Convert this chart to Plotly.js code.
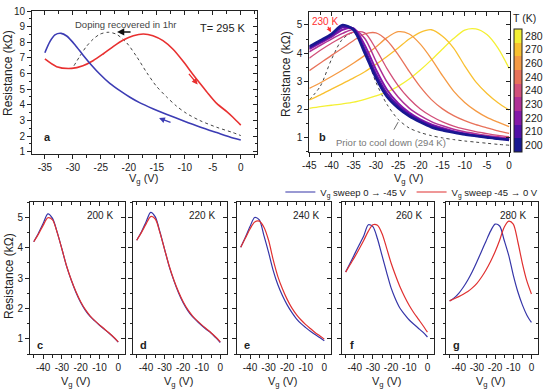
<!DOCTYPE html>
<html>
<head>
<meta charset="utf-8">
<script src="https://cdn.plot.ly/plotly-3.0.1.min.js"></script>
<style>
  html, body { margin: 0; padding: 0; background: #fff; }
  #chart { width: 545px; height: 390px; }
</style>
</head>
<body>
<div id="chart"></div>
<script>
// ---- Panel a: sweeps at 295 K (resistance in kOhm vs gate voltage in V) ----
const aBlueV = [-35.0, -34.1, -33.2, -32.1, -31.1, -29.6, -28.2, -26.7, -25.2, -23.4, -21.6, -19.8, -18.0, -15.7, -13.3, -10.3, -7.3, -4.3, -1.4, 0];
const aBlueR = [7.33, 8.04, 8.47, 8.57, 8.40, 7.83, 7.19, 6.55, 5.97, 5.37, 4.90, 4.48, 4.12, 3.75, 3.40, 2.98, 2.58, 2.22, 1.88, 1.75];
const aRedV = [-35.0, -32.9, -30.2, -28.2, -26.4, -24.6, -22.8, -21.0, -19.2, -17.4, -15.7, -13.9, -12.1, -10.3, -8.5, -7.3, -6.1, -4.3, -2.5, -1.4, 0];
const aRedR = [6.93, 6.44, 6.33, 6.50, 6.82, 7.25, 7.72, 8.14, 8.42, 8.53, 8.42, 8.10, 7.55, 6.78, 5.92, 5.37, 4.84, 4.09, 3.56, 3.20, 2.70];
const aGreyV = [-29.8, -28.8, -27.6, -26.4, -25.2, -23.7, -22.2, -20.4, -18.6, -16.8, -15.1, -13.3, -11.5, -9.7, -7.3, -4.3, -1.4, 0];
const aGreyR = [6.50, 7.08, 7.72, 8.19, 8.51, 8.64, 8.51, 7.97, 7.08, 6.06, 5.20, 4.52, 3.92, 3.45, 2.99, 2.56, 2.22, 2.03];

// ---- Shared gate-voltage grid for panels b–g ----
const vGrid = [-45, -42.5, -40, -37.5, -35, -32.5, -30, -27.5, -25, -22.5, -20, -17.5, -15, -12.5, -10, -7.5, -5, -2.5, 0];

// ---- Panel b: one curve per temperature ----
const tempLabels = ['200', '210', '220', '230', '240', '240', '260', '270', '280'];
const tempColors = ['#181890', '#5010a6', '#8418a8', '#b03096', '#d2507a', '#e8725a', '#f59a44', '#f9c030', '#f4f034'];
const b200 = [4.23, 4.45, 4.68, 5.00, 4.82, 4.00, 3.12, 2.45, 2.05, 1.76, 1.55, 1.37, 1.26, 1.18, 1.11, 1.06, 1.01, 0.96, 0.92];
const b210 = [4.19, 4.40, 4.63, 4.92, 4.86, 4.12, 3.25, 2.56, 2.13, 1.82, 1.60, 1.42, 1.30, 1.20, 1.13, 1.07, 1.02, 0.97, 0.93];
const b220 = [4.14, 4.36, 4.58, 4.83, 4.88, 4.28, 3.42, 2.70, 2.22, 1.89, 1.65, 1.47, 1.34, 1.23, 1.15, 1.08, 1.03, 0.98, 0.94];
const b230 = [4.05, 4.28, 4.50, 4.70, 4.84, 4.52, 3.72, 2.98, 2.44, 2.05, 1.78, 1.57, 1.42, 1.30, 1.21, 1.14, 1.08, 1.03, 0.98];
const b240a = [3.82, 4.10, 4.35, 4.58, 4.75, 4.72, 4.15, 3.45, 2.85, 2.38, 2.02, 1.76, 1.56, 1.41, 1.30, 1.21, 1.14, 1.08, 1.03];
const b240b = [3.38, 3.65, 3.92, 4.18, 4.45, 4.68, 4.72, 4.45, 3.95, 3.35, 2.80, 2.35, 2.02, 1.78, 1.60, 1.46, 1.35, 1.24, 1.15];
const b260 = [2.75, 2.95, 3.17, 3.40, 3.65, 3.92, 4.22, 4.55, 4.76, 4.68, 4.32, 3.80, 3.20, 2.65, 2.25, 1.95, 1.72, 1.55, 1.39];
const b270 = [2.34, 2.52, 2.72, 2.92, 3.12, 3.34, 3.60, 3.88, 4.18, 4.50, 4.74, 4.83, 4.60, 4.18, 3.55, 2.98, 2.57, 2.24, 1.98];
const b280 = [2.04, 2.10, 2.15, 2.20, 2.26, 2.36, 2.48, 2.62, 2.82, 3.08, 3.40, 3.76, 4.15, 4.52, 4.82, 4.86, 4.66, 4.18, 3.46];
const bPrior = [2.34, 2.83, 3.78, 4.50, 4.72, 4.05, 2.97, 2.18, 1.65, 1.34, 1.18, 1.07, 0.99, 0.93, 0.88, 0.84, 0.80, 0.76, 0.73];
const bCurves = [b200, b210, b220, b230, b240a, b240b, b260, b270, b280];
const bWidths = [2.6, 2.3, 2.0, 1.5, 1.3, 1.3, 1.3, 1.3, 1.3];

// ---- Panels c–g: forward (0 -> -45 V) and backward (-45 -> 0 V) sweeps ----
const sweepTemps = ['200 K', '220 K', '240 K', '260 K', '280 K'];
const sweepLetters = ['c', 'd', 'e', 'f', 'g'];
const fwd200 = [4.20, 4.48, 4.80, 5.12, 4.97, 4.51, 3.96, 3.39, 2.93, 2.53, 2.20, 1.94, 1.74, 1.59, 1.45, 1.32, 1.19, 1.05, 0.89];
const bwd200 = [4.20, 4.45, 4.74, 4.99, 4.92, 4.50, 3.96, 3.40, 2.94, 2.55, 2.22, 1.96, 1.76, 1.60, 1.46, 1.33, 1.20, 1.06, 0.90];
const fwd220 = [4.25, 4.52, 4.85, 5.17, 5.02, 4.52, 3.95, 3.38, 2.92, 2.52, 2.19, 1.93, 1.73, 1.58, 1.44, 1.31, 1.19, 1.04, 0.88];
const bwd220 = [4.25, 4.50, 4.78, 5.03, 4.95, 4.50, 3.95, 3.40, 2.94, 2.55, 2.22, 1.96, 1.76, 1.60, 1.46, 1.33, 1.20, 1.06, 0.90];
const fwd240 = [4.02, 4.35, 4.70, 5.00, 4.92, 4.40, 3.85, 3.25, 2.78, 2.42, 2.12, 1.87, 1.66, 1.50, 1.37, 1.25, 1.14, 1.04, 0.94];
const bwd240 = [4.02, 4.32, 4.62, 4.85, 4.88, 4.68, 4.25, 3.60, 3.05, 2.64, 2.30, 2.02, 1.80, 1.62, 1.47, 1.34, 1.21, 1.10, 0.99];
const fwd260 = [3.20, 3.50, 3.80, 4.10, 4.40, 4.76, 4.70, 4.30, 3.75, 3.20, 2.68, 2.30, 2.00, 1.80, 1.62, 1.48, 1.35, 1.22, 1.06];
const bwd260 = [3.20, 3.45, 3.70, 3.97, 4.25, 4.55, 4.76, 4.74, 4.47, 4.00, 3.50, 3.08, 2.70, 2.38, 2.10, 1.86, 1.65, 1.44, 1.22];
const fwd280 = [2.25, 2.35, 2.50, 2.70, 2.94, 3.22, 3.54, 3.88, 4.22, 4.55, 4.78, 4.72, 4.25, 3.75, 3.10, 2.55, 2.12, 1.78, 1.54];
const bwd280 = [2.25, 2.32, 2.39, 2.47, 2.56, 2.68, 2.83, 3.03, 3.27, 3.55, 3.87, 4.25, 4.68, 4.88, 4.78, 4.20, 3.49, 2.90, 2.48];
const fwdSweeps = [fwd200, fwd220, fwd240, fwd260, fwd280];
const bwdSweeps = [bwd200, bwd220, bwd240, bwd260, bwd280];

// ---- Tick values (labels are printed with a plain hyphen) ----
const ticksXa = [-35, -30, -25, -20, -15, -10, -5, 0];
const ticksXb = [-45, -40, -35, -30, -25, -20, -15, -10, -5, 0];
const ticksXs = [-40, -30, -20, -10, 0];
const ticksYa = [1, 2, 3, 4, 5, 6, 7, 8, 9, 10];
const ticksYb = [1, 2, 3, 4, 5];

const FONT = 'Liberation Sans, Arial, Helvetica, sans-serif';
const INK = '#222';
const W = 545, H = 390;
const px = v => v / W;
const py = v => 1 - v / H;

// plot-area boxes in pixels: [left, right, top, bottom]
const boxA = [32, 257, 11, 154];
const boxB = [309.3, 510, 12.3, 151.7];
const bottomBoxes = [[30, 125], [133, 227], [237, 331], [342, 434], [446, 538]];
const bottomTop = 202.3, bottomBottom = 354;

function mainAxis(domain, range, tickvals, minorDtick, labels, anchor) {
  return {
    domain, range, anchor,
    tickmode: 'array', tickvals, ticktext: tickvals.map(String),
    ticks: 'outside', ticklen: 4, tickwidth: 1, tickcolor: INK,
    minor: { tickmode: 'linear', tick0: 0, dtick: minorDtick, ticks: 'outside', ticklen: 2.5, tickwidth: 1, tickcolor: INK },
    showline: true, linecolor: INK, linewidth: 1, mirror: true,
    showgrid: false, zeroline: false, showticklabels: labels,
    tickfont: { family: FONT, size: 10, color: INK }, fixedrange: true
  };
}
function mirrorAxis(range, tickvals, minorDtick, overlaying, side, anchor) {
  return {
    range, overlaying, side, anchor,
    tickmode: 'array', tickvals,
    ticks: 'inside', ticklen: 4, tickwidth: 1, tickcolor: INK,
    minor: { tickmode: 'linear', tick0: 0, dtick: minorDtick, ticks: 'inside', ticklen: 2.5, tickwidth: 1, tickcolor: INK },
    showline: false, showgrid: false, zeroline: false, showticklabels: false, fixedrange: true
  };
}

const layout = {
  width: W, height: H,
  margin: { l: 0, r: 0, t: 0, b: 0 },
  paper_bgcolor: '#fff', plot_bgcolor: '#fff',
  font: { family: FONT, size: 10, color: INK },
  showlegend: true,
  legend: {
    orientation: 'h', x: 0.997, xanchor: 'right', y: py(192), yanchor: 'middle',
    font: { family: FONT, size: 9.5, color: INK }, bgcolor: 'rgba(0,0,0,0)',
    itemwidth: 30, traceorder: 'normal'
  },
  annotations: [],
  hovermode: false
};

const traces = [];
const rangeA = { x: [-37.3, 2.9], y: [0.85, 10] };
const rangeB = { x: [-45, 0.2], y: [0.5, 5.45] };
const rangeS = { x: [-47, 3.6], y: [0.5, 5.5] };

// panel a axes
layout.xaxis = mainAxis([px(boxA[0]), px(boxA[1])], rangeA.x, ticksXa, 2.5, true, 'y');
layout.yaxis = mainAxis([py(boxA[3]), py(boxA[2])], rangeA.y, ticksYa, 0.5, true, 'x');
// panel b axes
layout.xaxis2 = mainAxis([px(boxB[0]), px(boxB[1])], rangeB.x, ticksXb, 2.5, true, 'y2');
layout.yaxis2 = mainAxis([py(boxB[3]), py(boxB[2])], rangeB.y, ticksYb, 0.5, true, 'x2');
// panels c–g axes
bottomBoxes.forEach((b, i) => {
  const n = i + 3;
  layout['xaxis' + n] = mainAxis([px(b[0]), px(b[1])], rangeS.x, ticksXs, 5, true, 'y' + n);
  layout['yaxis' + n] = mainAxis([py(bottomBottom), py(bottomTop)], rangeS.y, ticksYb, 0.5, i === 0, 'x' + n);
});
// inward ticks on the top and right frame of every panel
const allRanges = [rangeA, rangeB, rangeS, rangeS, rangeS, rangeS, rangeS];
const allXt = [[ticksXa, 2.5], [ticksXb, 2.5], [ticksXs, 5], [ticksXs, 5], [ticksXs, 5], [ticksXs, 5], [ticksXs, 5]];
const allYt = [ticksYa, ticksYb, ticksYb, ticksYb, ticksYb, ticksYb, ticksYb];
allRanges.forEach((r, i) => {
  const n = i + 1, m = i + 8;
  const xs = n === 1 ? 'x' : 'x' + n, ys = n === 1 ? 'y' : 'y' + n;
  layout['xaxis' + m] = mirrorAxis(r.x, allXt[i][0], allXt[i][1], xs, 'top', ys);
  layout['yaxis' + m] = mirrorAxis(r.y, allYt[i], 0.5, ys, 'right', xs);
  traces.push({ type: 'scatter', x: [], y: [], xaxis: 'x' + m, yaxis: ys, showlegend: false, hoverinfo: 'skip' });
  traces.push({ type: 'scatter', x: [], y: [], xaxis: xs, yaxis: 'y' + m, showlegend: false, hoverinfo: 'skip' });
});

// ---- panel a curves ----
const splineLine = (color, width, dash) => ({ color, width, dash: dash || 'solid', shape: 'spline', smoothing: 0.8 });
traces.push({ type: 'scatter', mode: 'lines', x: aGreyV, y: aGreyR, xaxis: 'x', yaxis: 'y', line: splineLine('#444', 1.0, 'dot'), showlegend: false });
traces.push({ type: 'scatter', mode: 'lines', x: aRedV, y: aRedR, xaxis: 'x', yaxis: 'y', line: splineLine('#e83030', 1.6), showlegend: false });
traces.push({ type: 'scatter', mode: 'lines', x: aBlueV, y: aBlueR, xaxis: 'x', yaxis: 'y', line: splineLine('#3c3cb4', 1.6), showlegend: false });

// ---- panel b curves (hot to cold so the cold bundle is on top) ----
traces.push({ type: 'scatter', mode: 'lines', x: vGrid, y: bPrior, xaxis: 'x2', yaxis: 'y2', line: splineLine('#444', 1.0, 'dot'), showlegend: false });
for (let i = bCurves.length - 1; i >= 0; i--) {
  traces.push({ type: 'scatter', mode: 'lines', x: vGrid, y: bCurves[i], xaxis: 'x2', yaxis: 'y2',
    line: splineLine(tempColors[i], bWidths[i]), showlegend: false });
}
// temperature colour bar
const nT = tempColors.length;
const scale = [];
tempColors.forEach((c, i) => { scale.push([i / nT, c]); scale.push([(i + 1) / nT, c]); });
traces.push({
  type: 'scatter', mode: 'markers', x: [null], y: [null], xaxis: 'x2', yaxis: 'y2', showlegend: false, hoverinfo: 'skip',
  marker: {
    color: [0], cmin: -0.5, cmax: nT - 0.5, colorscale: scale, showscale: true,
    colorbar: {
      x: px(513.5), xanchor: 'left', y: py(82), yanchor: 'middle',
      len: 140, lenmode: 'pixels', thickness: 7.5, thicknessmode: 'pixels',
      xpad: 0, ypad: 0, outlinewidth: 1, outlinecolor: INK,
      tickvals: tempLabels.map((_, i) => i), ticktext: tempLabels, ticks: '',
      tickfont: { family: FONT, size: 10.5, color: INK },
      title: { text: 'T (K)', side: 'top', font: { family: FONT, size: 10.5, color: INK } }
    }
  }
});

// ---- panels c–g curves ----
fwdSweeps.forEach((f, i) => {
  const n = i + 3;
  traces.push({ type: 'scatter', mode: 'lines', x: vGrid, y: f, xaxis: 'x' + n, yaxis: 'y' + n,
    line: splineLine('#3535a8', 1.2), name: 'V<sub>g</sub> sweep 0 → -45 V', legendgroup: 'fwd', showlegend: i === 0 });
  traces.push({ type: 'scatter', mode: 'lines', x: vGrid, y: bwdSweeps[i], xaxis: 'x' + n, yaxis: 'y' + n,
    line: splineLine('#e03030', 1.2), name: 'V<sub>g</sub> sweep -45 → 0 V', legendgroup: 'bwd', showlegend: i === 0 });
});

// ---- axis titles, text labels and arrows ----
const ann = layout.annotations;
const txt = (x, y, text, opts) => Object.assign({ xref: 'paper', yref: 'paper', x: px(x), y: py(y), text, showarrow: false,
  xanchor: 'center', yanchor: 'middle', font: { family: FONT, size: 10, color: INK } }, opts || {});
const xTitleText = 'V<sub>g</sub> (V)';
const yTitleText = 'Resistance (kΩ)';
const xTitleFont = { family: FONT, size: 11, color: INK };
const yTitleFont = { family: FONT, size: 12, color: INK };
ann.push(txt(143, 179, xTitleText, { font: xTitleFont }));
ann.push(txt(8, 73, yTitleText, { textangle: -90, font: yTitleFont }));
ann.push(txt(408, 179, xTitleText, { font: xTitleFont }));
ann.push(txt(286, 74, yTitleText, { textangle: -90, font: yTitleFont }));
ann.push(txt(9, 276, yTitleText, { textangle: -90, font: yTitleFont }));
bottomBoxes.forEach(b => ann.push(txt((b[0] + b[1]) / 2 - 2, 382, xTitleText, { font: xTitleFont })));

ann.push(txt(125, 24, 'Doping recovered in 1hr', { font: { family: FONT, size: 9.5, color: '#444' } }));
ann.push({ xref: 'x', yref: 'y', x: -22.1, y: 8.66, ax: 15, ay: 0, text: '', showarrow: true, arrowhead: 2, arrowsize: 0.9, arrowwidth: 1.6, arrowcolor: '#111' });
ann.push(txt(223, 28, 'T= 295 K', { font: { family: FONT, size: 11, color: INK } }));
ann.push({ xref: 'x', yref: 'y', x: -7.7, y: 5.3, ax: -10, ay: -12, text: '', showarrow: true, arrowhead: 2, arrowsize: 0.9, arrowwidth: 1.3, arrowcolor: '#e83030' });
ann.push({ xref: 'x', yref: 'y', x: -14.6, y: 3.15, ax: 13, ay: 5, text: '', showarrow: true, arrowhead: 2, arrowsize: 0.9, arrowwidth: 1.3, arrowcolor: '#3c3cb4' });
ann.push(txt(47, 137, '<b>a</b>', { font: { family: FONT, size: 11, color: INK } }));

ann.push(txt(324.5, 21, '230 K', { font: { family: FONT, size: 10, color: '#ff3030' } }));
ann.push({ xref: 'x2', yref: 'y2', x: -40.1, y: 4.74, ax: -4, ay: -7, text: '', showarrow: true, arrowhead: 2, arrowsize: 0.8, arrowwidth: 1.2, arrowcolor: '#ff3030' });
ann.push(txt(390.5, 142, 'Prior to cool down (294 K)', { font: { family: FONT, size: 9.5, color: '#777' } }));
ann.push({ xref: 'x2', yref: 'y2', x: -25.0, y: 1.55, ax: -5, ay: 9, text: '', showarrow: true, arrowhead: 0, arrowwidth: 0.8, arrowcolor: '#444' });
ann.push(txt(322, 137, '<b>b</b>', { font: { family: FONT, size: 11, color: INK } }));

bottomBoxes.forEach((b, i) => {
  ann.push(txt(b[1] - 10, 215, sweepTemps[i], { xanchor: 'right', font: { family: FONT, size: 10, color: INK } }));
  ann.push(txt(b[0] + 10, 345, '<b>' + sweepLetters[i] + '</b>', { font: { family: FONT, size: 11, color: INK } }));
});

Plotly.newPlot('chart', traces, layout, { staticPlot: true, displayModeBar: false });
</script>
</body>
</html>
